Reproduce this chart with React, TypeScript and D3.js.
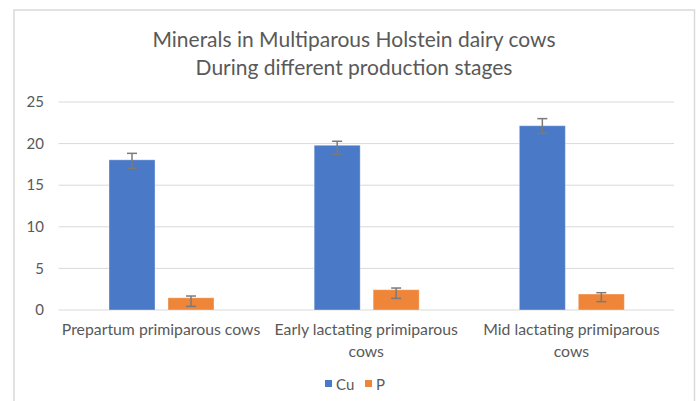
import React from "react";
import * as d3 from "d3";

const categories = [
  ["Prepartum primiparous cows"],
  ["Early lactating primiparous", "cows"],
  ["Mid lactating primiparous", "cows"],
];
const seriesNames = ["Cu", "P"];
const cuValues = [18.05, 19.8, 22.15];
const cuErrLow = [17.03, 18.71, 21.24];
const cuErrHigh = [18.83, 20.28, 23.0];
const pValues = [1.47, 2.44, 1.92];
const pErrLow = [0.44, 1.4, 1.0];
const pErrHigh = [1.68, 2.64, 2.08];
const yTicks = [0, 5, 10, 15, 20, 25];
const titleLines = [
  "Minerals in Multiparous Holstein dairy cows",
  "During different production stages",
];

const W = 697;
const H = 401;
const FONT = "Lato, 'Open Sans', sans-serif";
const TEXT = "#595959";
const COLORS = ["#4a79c7", "#ee8538"];

export default function App() {
  const x0 = d3
    .scaleBand<number>()
    .domain(d3.range(categories.length))
    .range([58.5, 674])
    .paddingInner(0)
    .paddingOuter(0);
  const x1 = d3
    .scaleBand<number>()
    .domain([0, 1])
    .range([50.5, 155.5])
    .paddingInner(0.22)
    .paddingOuter(0);
  const y = d3.scaleLinear().domain([0, 25]).range([310, 102]);

  const series = [
    { name: seriesNames[0], values: cuValues, lo: cuErrLow, hi: cuErrHigh },
    { name: seriesNames[1], values: pValues, lo: pErrLow, hi: pErrHigh },
  ];

  return (
    <div style={{ position: "absolute", left: 0, top: 0 }}>
      <svg width={W} height={H} style={{ display: "block" }}>
        <rect width={W} height={H} fill="#ffffff" />
        <path d="M14,401 V10 H694.5 V401" fill="none" stroke="#d9d9d9" strokeWidth={1.5} />
        {titleLines.map((t, i) => (
          <text
            key={i}
            x={354}
            y={47 + i * 28}
            textAnchor="middle"
            fontFamily={FONT}
            fontSize={21}
            fill={TEXT}
          >
            {t}
          </text>
        ))}
        {yTicks.map((t) => (
          <g key={t}>
            <line x1={58.5} x2={674} y1={y(t)} y2={y(t)} stroke="#d9d9d9" strokeWidth={1} />
            <text
              x={44}
              y={y(t)}
              dy="0.35em"
              textAnchor="end"
              fontFamily={FONT}
              fontSize={15}
              fill={TEXT}
            >
              {t}
            </text>
          </g>
        ))}
        {categories.map((c, ci) =>
          series.map((s, si) => {
            const bx = (x0(ci) as number) + (x1(si) as number);
            const bw = x1.bandwidth();
            const cx = bx + bw / 2;
            return (
              <g key={`${ci}-${si}`}>
                <rect
                  x={bx}
                  y={y(s.values[ci])}
                  width={bw}
                  height={y(0) - y(s.values[ci])}
                  fill={COLORS[si]}
                  stroke="#ffffff"
                  strokeOpacity={0.35}
                  strokeWidth={1}
                />
                <g stroke="#7a7a7a" strokeWidth={1.5}>
                  <line x1={cx} x2={cx} y1={y(s.lo[ci])} y2={y(s.hi[ci])} />
                  <line x1={cx - 5} x2={cx + 5} y1={y(s.lo[ci])} y2={y(s.lo[ci])} />
                  <line x1={cx - 5} x2={cx + 5} y1={y(s.hi[ci])} y2={y(s.hi[ci])} />
                </g>
              </g>
            );
          })
        )}
        {categories.map((c, ci) =>
          c.map((line, li) => (
            <text
              key={`${ci}-${li}`}
              x={(x0(ci) as number) + x0.bandwidth() / 2}
              y={335 + li * 22}
              textAnchor="middle"
              fontFamily={FONT}
              fontSize={15.8}
              fill={TEXT}
            >
              {line}
            </text>
          ))
        )}
        <g fontFamily={FONT} fontSize={15} fill={TEXT}>
          <rect x={325} y={380} width={7} height={7} fill={COLORS[0]} />
          <text x={336} y={389.5}>{seriesNames[0]}</text>
          <rect x={365} y={380} width={7} height={7} fill={COLORS[1]} />
          <text x={376} y={389.5}>{seriesNames[1]}</text>
        </g>
      </svg>
    </div>
  );
}
